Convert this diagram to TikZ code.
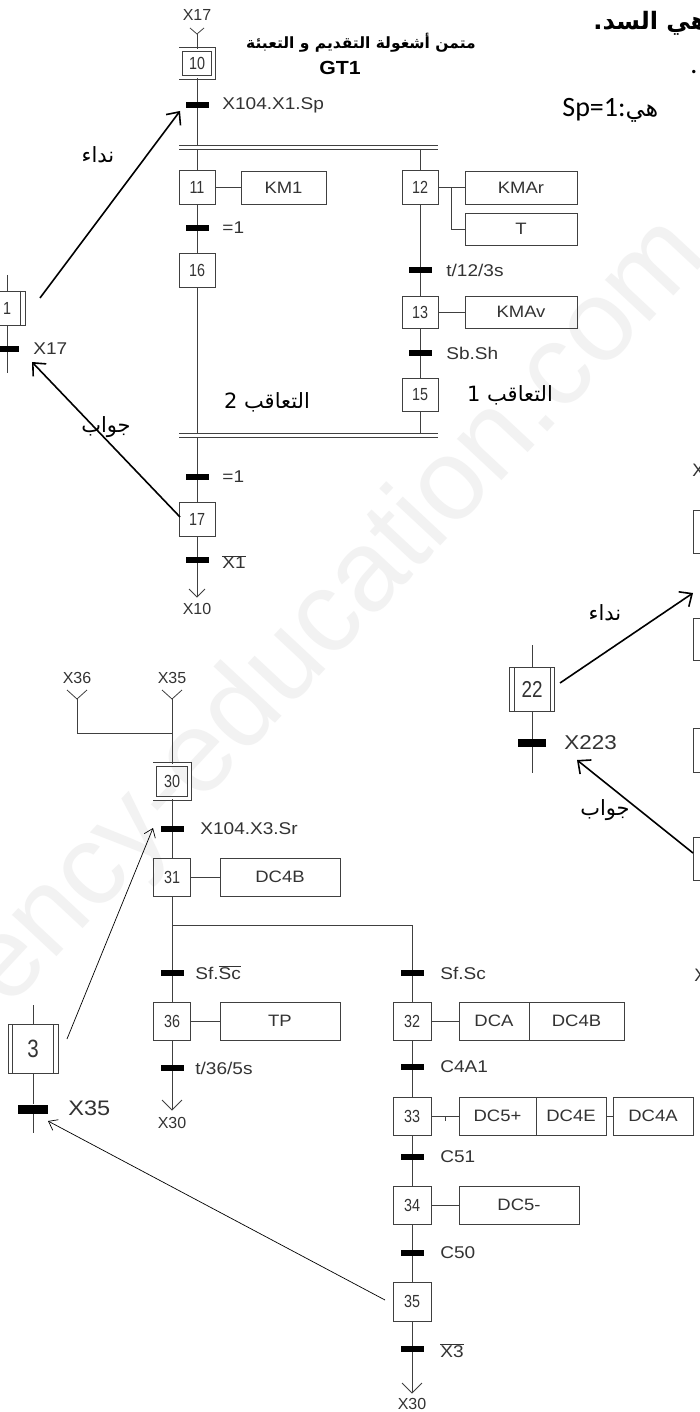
\documentclass[tikz,border=0pt]{standalone}
\usepackage{fontspec}
\setmainfont{Liberation Sans}
\newfontfamily\wideface[FakeStretch=1.12]{Liberation Sans}
\newfontfamily\narrowface[FakeStretch=0.82]{Liberation Sans}
\newfontfamily\arabicfont[Script=Arabic]{DejaVu Sans}
\newfontfamily\notefont{Carlito}
\TeXXeTstate=1
\usetikzlibrary{arrows.meta}

\definecolor{linegray}{gray}{0.25}
\definecolor{textgray}{gray}{0.2}

\tikzset{
  stepbox/.style={draw=linegray,minimum width=36,minimum height=34,inner sep=0pt,
    font=\narrowface\fontsize{17.5}{17.5}\selectfont,text=textgray},
  initstep/.style={stepbox,double,double distance=3pt,minimum width=32.4,minimum height=28.4},
  macrostep/.style={stepbox,path picture={
    \draw[linegray] ([xshift=4.5pt]path picture bounding box.north west) -- ([xshift=4.5pt]path picture bounding box.south west)
      ([xshift=-4.5pt]path picture bounding box.north east) -- ([xshift=-4.5pt]path picture bounding box.south east);}},
  actbox/.style={draw=linegray,minimum height=33,inner sep=0pt,
    font=\wideface\fontsize{16.5}{16.5}\selectfont,text=textgray},
  bar/.style={fill=black,minimum width=23,minimum height=6,inner sep=0pt},
  cond/.style={anchor=west,inner sep=0pt,font=\wideface\fontsize{17}{17}\selectfont,text=textgray},
  tag/.style={inner sep=0pt,font=\fontsize{16}{16}\selectfont,text=textgray},
  ar/.style={inner sep=0pt,font=\arabicfont\fontsize{21}{21}\selectfont},
  call/.style={line width=1.6pt,-{Straight Barb[length=10pt,width=18pt]}},
  callthin/.style={line width=0.7pt,-{Straight Barb[length=8pt,width=12pt]}},
}

\begin{document}
\begin{tikzpicture}[x=1pt,y=-1pt,line width=0.8pt]
\useasboundingbox (0,0) rectangle (700,1412);
\clip (0,0) rectangle (700,1412);
\fill[white] (0,0) rectangle (700,1412);

% watermark
\node[rotate=47,anchor=base west,inner sep=0pt,font=\fontsize{115}{115}\selectfont,text=black!5] (mark) at (8,1010) {ency-education.com};

% notes at the top right
\node[inner sep=0pt,anchor=west,font=\arabicfont\bfseries\fontsize{24}{24}\selectfont] (note1) at (593,23) {\beginR هي السد.\endR};
\node[inner sep=0pt,font=\notefont\fontsize{28}{28}\selectfont] (note2) at (694,72) {.};
\node[inner sep=0pt,anchor=west,font=\notefont\fontsize{28}{28}\selectfont] (note3) at (562,110) {Sp=1:{\arabicfont\fontsize{24}{24}\selectfont\beginR هي\endR}};

% grafcet GT1
\node[ar,font=\arabicfont\bfseries\fontsize{15.5}{15.5}\selectfont] (title) at (361,43) {\beginR متمن أشغولة التقديم و التعبئة\endR};
\node[inner sep=0pt,font=\wideface\bfseries\fontsize{19}{19}\selectfont] (gt1) at (340,68) {GT1};

\node[tag] (x17) at (197,15) {X17};
\coordinate (in10) at (197,34);
\draw[linegray] (190,28) -- (in10) -- (204,28);
\node[initstep] (s10) at (197,63.5) {10};
\node[bar] (t10) at (197,105) {};
\node[cond] (c10) at (222,105) {X104.X1.Sp};
\coordinate (ga1) at (197,145);
\draw[linegray] (in10) -- (s10) -- (t10) -- (ga1);
\draw[linegray] (179,145) -- (438,145) (179,149) -- (438,149);
\coordinate (ga2) at (197,149);
\coordinate (gb2) at (420,149);

% sequence 2
\node[stepbox] (s11) at (197,187.5) {11};
\node[actbox,minimum width=85] (a11) at (283.5,187.5) {KM1};
\node[bar] (t11) at (197,228) {};
\node[cond] (c11) at (222,228) {=1};
\node[stepbox] (s16) at (197,270) {16};
\coordinate (ga3) at (197,433);
\draw[linegray] (ga2) -- (s11) -- (t11) -- (s16) -- (ga3) (s11) -- (a11);
\node[ar] (seq2) at (267,402) {\beginR التعاقب 2\endR};

% sequence 1
\node[stepbox] (s12) at (420,187.5) {12};
\node[actbox,minimum width=112] (a12) at (521,187.5) {KMAr};
\node[actbox,minimum width=112,minimum height=32] (a12t) at (521,229) {T};
\coordinate (k12) at (451,187.5);
\draw[linegray] (s12) -- (a12) (k12) |- (a12t);
\node[bar] (t12) at (420,270) {};
\node[cond] (c12) at (446,270) {t/12/3s};
\node[stepbox,minimum height=32] (s13) at (420,312) {13};
\node[actbox,minimum width=112,minimum height=32] (a13) at (521,312) {KMAv};
\node[bar] (t13) at (420,353) {};
\node[cond] (c13) at (446,353) {Sb.Sh};
\node[stepbox,minimum height=33] (s15) at (420,394.5) {15};
\node[ar] (seq1) at (510,395) {\beginR التعاقب 1\endR};
\coordinate (gb3) at (420,433);
\draw[linegray] (gb2) -- (s12) -- (t12) -- (s13) -- (t13) -- (s15) -- (gb3) (s13) -- (a13);

\draw[linegray] (179,433) -- (438,433) (179,437) -- (438,437);
\coordinate (ga4) at (197,437);
\node[bar] (t17a) at (197,477) {};
\node[cond] (c17a) at (222,477) {=1};
\node[stepbox] (s17) at (197,519) {17};
\node[bar] (t17) at (197,560) {};
\node[cond] (c17) at (222,562) {$\overline{\hbox{X1}}$};
\coordinate (out17) at (197,597);
\draw[linegray] (ga4) -- (t17a) -- (s17) -- (t17) -- (out17);
\draw[linegray] (189,589) -- (out17) -- (205,589);
\node[tag] (x10) at (197,609) {X10};

% partial grafcet on the left (step 1)
\node[macrostep] (s1) at (7,308) {1};
\coordinate (s1in) at (7,275);
\coordinate (s1out) at (7,373);
\node[bar] (t1) at (7,349) {};
\node[cond,font=\wideface\fontsize{17}{17}\selectfont] (c1) at (33,349) {X17};
\draw[linegray] (s1in) -- (s1) -- (t1) -- (s1out);

\coordinate (call1) at (40,298);
\coordinate (tip1) at (180,111);
\draw[call] (call1) -- (tip1);
\node[ar] (lab1) at (98,155) {\beginR نداء\endR};
\coordinate (back1) at (180,517);
\coordinate (tip2) at (32,362);
\draw[call] (back1) -- (tip2);
\node[ar] (lab2) at (106,427) {\beginR جواب\endR};

% partial grafcet on the right (step 22)
\node[macrostep,minimum width=45,minimum height=44,font=\narrowface\fontsize{23}{23}\selectfont] (s22) at (532,689) {22};
\coordinate (s22in) at (532,645);
\coordinate (s22out) at (532,773);
\node[bar,minimum width=28,minimum height=8] (t22) at (532,743) {};
\node[cond,font=\wideface\fontsize{20}{20}\selectfont] (c22) at (564,743) {X223};
\draw[linegray] (s22in) -- (s22) -- (t22) -- (s22out);
\node[stepbox,anchor=west,minimum width=45,minimum height=43] (r1) at (693,531.5) {};
\node[stepbox,anchor=west,minimum width=45,minimum height=42] (r2) at (693,639) {};
\node[stepbox,anchor=west,minimum width=45,minimum height=44] (r3) at (693,750) {};
\node[stepbox,anchor=west,minimum width=45,minimum height=43] (r4) at (693,858.5) {};
\node[tag,anchor=west,font=\fontsize{18}{18}\selectfont] (rx1) at (692,470) {X};
\node[tag,anchor=west,font=\fontsize{18}{18}\selectfont] (rx2) at (694,975) {X};
\coordinate (call3) at (560,683);
\coordinate (tip3) at (693,593);
\draw[call] (call3) -- (tip3);
\node[ar] (lab3) at (605,613) {\beginR نداء\endR};
\coordinate (back3) at (693,853);
\coordinate (tip4) at (577,760);
\draw[call] (back3) -- (tip4);
\node[ar] (lab4) at (605,810) {\beginR جواب\endR};

% grafcet of steps 30 to 36
\node[tag] (x36) at (77,678) {X36};
\node[tag] (x35) at (172,678) {X35};
\coordinate (in36) at (77,699);
\coordinate (in35) at (172,699);
\coordinate (j30) at (172,733);
\draw[linegray] (67,690) -- (in36) -- (87,690) (162,690) -- (in35) -- (182,690);
\draw[linegray] (in36) |- (j30);
\node[initstep,minimum width=34.4,minimum height=34.4] (s30) at (172,781.5) {30};
\node[bar] (t30) at (172,829) {};
\node[cond] (c30) at (200,829) {X104.X3.Sr};
\node[stepbox,minimum width=37,minimum height=38] (s31) at (172,877) {31};
\node[actbox,minimum width=120,minimum height=38] (a31) at (280,877) {DC4B};
\coordinate (o31) at (172,925);
\coordinate (o32) at (412,925);
\draw[linegray] (in35) -- (s30) -- (t30) -- (s31) -- (o31) -- (o32) (s31) -- (a31);

\node[bar] (t36) at (172,973) {};
\node[cond] (c36) at (195,973) {Sf.$\overline{\hbox{Sc}}$};
\node[stepbox,minimum width=37,minimum height=38] (s36) at (172,1021) {36};
\node[actbox,minimum width=120,minimum height=38] (a36) at (280,1021) {TP};
\node[bar] (t36b) at (172,1068) {};
\node[cond] (c36b) at (195,1068) {t/36/5s};
\coordinate (out36) at (172,1110);
\draw[linegray] (o31) -- (t36) -- (s36) -- (t36b) -- (out36) (s36) -- (a36);
\draw[linegray] (162,1100) -- (out36) -- (182,1100);
\node[tag] (x30a) at (172,1123) {X30};

\node[bar] (t32) at (412,973) {};
\node[cond] (c32) at (440,973) {Sf.Sc};
\node[stepbox,minimum width=38,minimum height=38] (s32) at (412,1021) {32};
\node[actbox,minimum width=70,minimum height=38] (a32) at (494,1021) {DCA};
\node[actbox,minimum width=95,minimum height=38] (a32b) at (576.5,1021) {DC4B};
\node[bar] (t33) at (412,1067) {};
\node[cond] (c33) at (440,1067) {C4A1};
\node[stepbox,minimum width=38,minimum height=38] (s33) at (412,1116) {33};
\node[actbox,minimum width=77,minimum height=38] (a33) at (497.5,1116) {DC5+};
\node[actbox,minimum width=70,minimum height=38] (a33b) at (571,1116) {DC4E};
\node[actbox,minimum width=80,minimum height=38] (a33c) at (653,1116) {DC4A};
\draw[linegray] (445,1116) -- (445,1121);
\node[bar] (t34) at (412,1157) {};
\node[cond] (c34) at (440,1157) {C51};
\node[stepbox,minimum width=38,minimum height=38] (s34) at (412,1205) {34};
\node[actbox,minimum width=120,minimum height=38] (a34) at (519,1205) {DC5-};
\node[bar] (t35) at (412,1253) {};
\node[cond] (c35) at (440,1253) {C50};
\node[stepbox,minimum width=38,minimum height=39] (s35) at (412,1301.5) {35};
\node[bar] (t35b) at (412,1349) {};
\node[cond] (c35b) at (440,1351) {$\overline{\hbox{X3}}$};
\coordinate (out35) at (412,1393);
\draw[linegray] (o32) -- (t32) -- (s32) -- (t33) -- (s33) -- (t34) -- (s34) -- (t35) -- (s35) -- (t35b) -- (out35);
\draw[linegray] (s32) -- (a32) (s33) -- (a33) (a33b) -- (a33c) (s34) -- (a34);
\draw[linegray] (402,1383) -- (out35) -- (422,1383);
\node[tag] (x30b) at (412,1404) {X30};

% partial grafcet on the left (step 3)
\node[macrostep,minimum width=50,minimum height=49,font=\narrowface\fontsize{25}{25}\selectfont] (s3) at (33,1048.5) {3};
\coordinate (s3in) at (33,1005);
\coordinate (s3out) at (33,1133);
\node[bar,minimum width=30,minimum height=9] (t3) at (33,1109) {};
\node[cond,font=\wideface\fontsize{21}{21}\selectfont] (c3) at (68,1108) {X35};
\draw[linegray] (s3in) -- (s3) -- (t3) -- (s3out);
\coordinate (call5) at (67,1039);
\coordinate (tip5) at (153,828);
\draw[callthin] (call5) -- (tip5);
\coordinate (back5) at (385,1300);
\coordinate (tip6) at (48,1121);
\draw[callthin] (back5) -- (tip6);
\end{tikzpicture}
\end{document}
